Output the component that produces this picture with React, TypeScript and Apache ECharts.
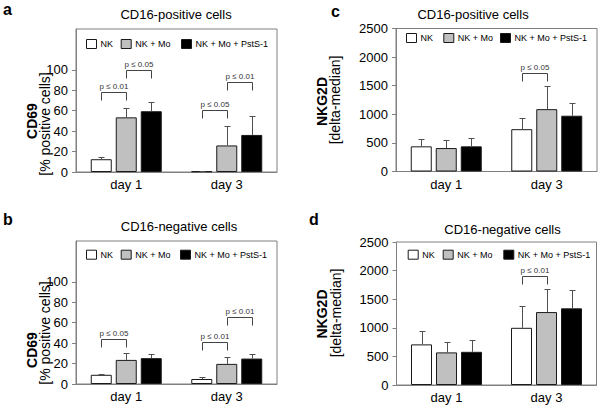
import React, { useEffect, useRef } from 'react';
import * as echarts from 'echarts';

// ---------- data ----------
const categories = ['day 1', 'day 3'];
const groupNames = ['NK', 'NK + Mo', 'NK + Mo + PstS-1'];

// CD69, CD16-positive cells (panel a): rows = NK, NK + Mo, NK + Mo + PstS-1; cols = day 1, day 3
const cd69PosMean = [[12.5, 0.7], [53.5, 26], [59.5, 36.3]];
const cd69PosUpper = [[14.8, 0.9], [63, 45.5], [69, 54.5]];
// CD69, CD16-negative cells (panel b)
const cd69NegMean = [[9, 4.9], [23.6, 19.7], [25.3, 24.9]];
const cd69NegUpper = [[10, 7.2], [30.2, 26.2], [29.2, 29.8]];
// NKG2D, CD16-positive cells (panel c)
const nkg2dPosMean = [[440, 740], [410, 1090], [440, 975]];
const nkg2dPosUpper = [[560, 940], [545, 1490], [580, 1190]];
// NKG2D, CD16-negative cells (panel d)
const nkg2dNegMean = [[710, 1000], [570, 1275], [580, 1340]];
const nkg2dNegUpper = [[950, 1385], [755, 1680], [795, 1665]];

// significance brackets: day index, from group, to group, bracket height (data units), text
const cd69PosBrackets = [
  { day: 0, from: 0, to: 1, y: 78, text: 'p ≤ 0.01' },
  { day: 0, from: 1, to: 2, y: 100, text: 'p ≤ 0.05' },
  { day: 1, from: 0, to: 1, y: 61, text: 'p ≤ 0.05' },
  { day: 1, from: 1, to: 2, y: 88, text: 'p ≤ 0.01' },
];
const cd69NegBrackets = [
  { day: 0, from: 0, to: 1, y: 44, text: 'p ≤ 0.05' },
  { day: 1, from: 0, to: 1, y: 41, text: 'p ≤ 0.01' },
  { day: 1, from: 1, to: 2, y: 66, text: 'p ≤ 0.01' },
];
const nkg2dPosBrackets = [{ day: 1, from: 0, to: 1, y: 1725, text: 'p ≤ 0.05' }];
const nkg2dNegBrackets = [{ day: 1, from: 0, to: 1, y: 1900, text: 'p ≤ 0.01' }];

const percentTicks = [0, 20, 40, 60, 80, 100];
const nkg2dTicks = [0, 500, 1000, 1500, 2000, 2500];

// ---------- styles / layout ----------
const FONT = 'Liberation Sans, Arial, Helvetica, sans-serif';
const BAR_W = 21;
const BAR_GAP = 4;
const FILLS = ['#ffffff', '#c0c0c0', '#000000'];
const BAR_BORDER = '#1a1a1a';
const FRAME = '#808080';
const ERR = '#505050';
const LEG_LEN = 8;

const panels = [
  {
    letter: 'a', letterPos: [3, 1], title: 'CD16-positive cells', titlePos: [176, 7.5],
    grid: { left: 76, top: 29, width: 201, height: 143 }, max: 140, interval: 20, ticks: percentTicks,
    mean: cd69PosMean, upper: cd69PosUpper, brackets: cd69PosBrackets,
    name1: 'CD69', name1Pos: [31.5, 121], name2: '[% positive cells]', name2Pos: [45, 124],
    legendX: [86, 120.7, 181], legendY: 39,
  },
  {
    letter: 'b', letterPos: [3, 211], title: 'CD16-negative cells', titlePos: [179, 219.5],
    grid: { left: 76, top: 241, width: 201, height: 143 }, max: 140, interval: 20, ticks: percentTicks,
    mean: cd69NegMean, upper: cd69NegUpper, brackets: cd69NegBrackets,
    name1: 'CD69', name1Pos: [31.5, 350], name2: '[% positive cells]', name2Pos: [45, 333],
    legendX: [86, 120.7, 180], legendY: 249.7,
  },
  {
    letter: 'c', letterPos: [331, 3], title: 'CD16-positive cells', titlePos: [473, 7.5],
    grid: { left: 396, top: 28.5, width: 201, height: 143 }, max: 2500, interval: 500, ticks: nkg2dTicks,
    mean: nkg2dPosMean, upper: nkg2dPosUpper, brackets: nkg2dPosBrackets,
    name1: 'NKG2D', name1Pos: [321.5, 101.5], name2: '[delta-median]', name2Pos: [335, 100],
    legendX: [406, 443.3, 500], legendY: 33,
  },
  {
    letter: 'd', letterPos: [309, 211], title: 'CD16-negative cells', titlePos: [502.5, 223],
    grid: { left: 396.5, top: 242, width: 200, height: 143 }, max: 2500, interval: 500, ticks: nkg2dTicks,
    mean: nkg2dNegMean, upper: nkg2dNegUpper, brackets: nkg2dNegBrackets,
    name1: 'NKG2D', name1Pos: [322, 314], name2: '[delta-median]', name2Pos: [335.5, 313],
    legendX: [407.7, 442.7, 503.3], legendY: 249.7,
  },
];

function buildOption() {
  const grid: any[] = [];
  const xAxis: any[] = [];
  const yAxis: any[] = [];
  const series: any[] = [];
  const legend: any[] = [];
  const graphic: any[] = [];

  panels.forEach((p, pi) => {
    grid.push({ ...p.grid, show: true, borderColor: FRAME, borderWidth: 1, backgroundColor: 'transparent' });
    xAxis.push({
      type: 'category', gridIndex: pi, data: categories,
      axisLine: { lineStyle: { color: FRAME, width: 1 } },
      axisTick: { alignWithLabel: true, length: 4, lineStyle: { color: FRAME } },
      axisLabel: { fontSize: 13, color: '#000', margin: 6, fontFamily: FONT },
    });
    yAxis.push({
      type: 'value', gridIndex: pi, min: 0, max: p.max, interval: p.interval,
      splitLine: { show: false },
      axisLine: { show: true, lineStyle: { color: FRAME, width: 1 } },
      axisTick: { show: true, length: 4, lineStyle: { color: FRAME }, customValues: p.ticks },
      axisLabel: {
        fontSize: 13, color: '#000', margin: 8, fontFamily: FONT, customValues: p.ticks,
        formatter: (v: number) => String(v),
      },
    });

    for (let k = 0; k < 3; k++) {
      series.push({
        type: 'bar', name: groupNames[k], xAxisIndex: pi, yAxisIndex: pi,
        data: p.mean[k], barWidth: BAR_W, barGap: `${(BAR_GAP / BAR_W) * 100}%`,
        itemStyle: { color: FILLS[k], borderColor: BAR_BORDER, borderWidth: 1 },
        silent: true, z: 2,
      });
    }

    const errData: number[][] = [];
    for (let k = 0; k < 3; k++) {
      for (let d = 0; d < categories.length; d++) {
        errData.push([d, p.mean[k][d], p.upper[k][d], k]);
      }
    }
    series.push({
      type: 'custom', xAxisIndex: pi, yAxisIndex: pi, data: errData, silent: true, z: 3,
      renderItem: (params: any, api: any) => {
        const d = api.value(0);
        const k = api.value(3);
        const base = api.coord([d, api.value(1)]);
        const top = api.coord([d, api.value(2)]);
        const x = Math.round(base[0] + (k - 1) * (BAR_W + BAR_GAP)) + 0.5;
        const yt = Math.round(top[1]) + 0.5;
        const st = { stroke: ERR, lineWidth: 1 };
        return {
          type: 'group',
          children: [
            { type: 'line', shape: { x1: x, y1: base[1], x2: x, y2: yt }, style: st },
            { type: 'line', shape: { x1: x - 3, y1: yt, x2: x + 3, y2: yt }, style: st },
          ],
        };
      },
    });

    const br = p.brackets;
    series.push({
      type: 'custom', xAxisIndex: pi, yAxisIndex: pi, silent: true, z: 4,
      data: br.map((b) => [b.day, b.y]),
      renderItem: (params: any, api: any) => {
        const b = br[params.dataIndex];
        const c = api.coord([b.day, b.y]);
        const x1 = Math.round(c[0] + (b.from - 1) * (BAR_W + BAR_GAP)) + 0.5;
        const x2 = Math.round(c[0] + (b.to - 1) * (BAR_W + BAR_GAP)) + 0.5;
        const y = Math.round(c[1]) + 0.5;
        const st = { stroke: '#444', lineWidth: 1, fill: null };
        return {
          type: 'group',
          children: [
            { type: 'polyline', shape: { points: [[x1, y + LEG_LEN], [x1, y], [x2, y], [x2, y + LEG_LEN]] }, style: st },
            {
              type: 'text',
              style: {
                text: b.text, x: (x1 + x2) / 2, y: y - 2, align: 'center', verticalAlign: 'bottom',
                fontSize: 8, fontFamily: FONT, fill: '#333',
              },
            },
          ],
        };
      },
    });

    for (let k = 0; k < 3; k++) {
      legend.push({
        data: [groupNames[k]], left: p.legendX[k], top: p.legendY, padding: 0,
        itemWidth: 10, itemHeight: 9, itemGap: 0, selectedMode: false,
        icon: 'rect',
        itemStyle: { borderColor: BAR_BORDER, borderWidth: 1 },
        textStyle: { fontSize: 9, color: '#000', fontFamily: FONT, padding: [0, 0, 0, -1] },
      });
    }

    graphic.push({
      type: 'text', x: p.letterPos[0], y: p.letterPos[1],
      style: { text: p.letter, fontSize: 16, fontWeight: 'bold', fontFamily: FONT, fill: '#000' },
    });
    graphic.push({
      type: 'text', x: p.titlePos[0], y: p.titlePos[1],
      style: { text: p.title, fontSize: 13, fontFamily: FONT, fill: '#000', align: 'center', verticalAlign: 'top' },
    });
    graphic.push({
      type: 'text', x: p.name1Pos[0], y: p.name1Pos[1], rotation: Math.PI / 2,
      style: { text: p.name1, fontSize: 14, fontWeight: 'bold', fontFamily: FONT, fill: '#000', align: 'center', verticalAlign: 'middle' },
    });
    graphic.push({
      type: 'text', x: p.name2Pos[0], y: p.name2Pos[1], rotation: Math.PI / 2,
      style: { text: p.name2, fontSize: 14, fontFamily: FONT, fill: '#000', align: 'center', verticalAlign: 'middle' },
    });
  });

  return {
    animation: false,
    backgroundColor: '#ffffff',
    textStyle: { fontFamily: FONT },
    grid, xAxis, yAxis, series, legend, graphic,
  };
}

export default function App() {
  const ref = useRef<HTMLDivElement>(null);
  useEffect(() => {
    if (!ref.current) return;
    const chart = echarts.init(ref.current, undefined, { renderer: 'svg' });
    chart.setOption(buildOption() as any);
    return () => chart.dispose();
  }, []);
  return (
    <div
      ref={ref}
      style={{ position: 'absolute', left: 0, top: 0, width: 600, height: 408, background: '#fff' }}
    />
  );
}
